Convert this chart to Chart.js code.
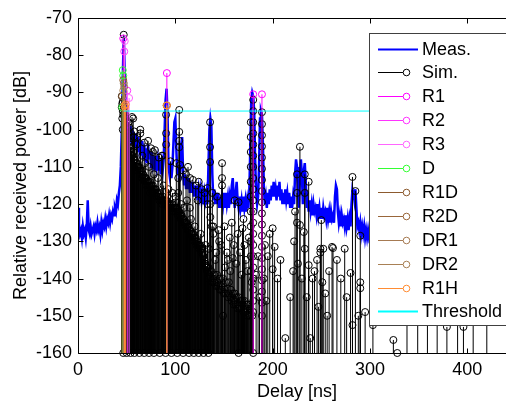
<!DOCTYPE html>
<html>
<head>
<meta charset="utf-8">
<script src="https://cdn.jsdelivr.net/npm/chart.js@4.4.1/dist/chart.umd.min.js"></script>
<style>
html, body { margin: 0; padding: 0; overflow: hidden; background: #fff; }
#wrap { width: 506px; height: 402px; overflow: hidden; }
canvas { display: block; }
</style>
</head>
<body>
<div id="wrap"><canvas id="pdp" width="530" height="402"></canvas></div>
<script>
// measured power delay profile, one sample per ns starting at 0 ns
const measStart = 0;
const measStep = 1;
const measPower = [
  -121,-126,-128,-127,-129,-126,-128,-127,-129,-126,
  -119,-127,-128,-126,-128,-127,-126,-128,-126,-127,
  -125,-127,-126,-128,-125,-127,-125,-126,-124,-126,
  -124,-125,-123,-125,-123,-124,-122,-123,-121,-122,
  -119,-120,-117,-115,-110,-100,-86,-75,-84,-93,
  -97,-101,-98,-103,-99,-104,-100,-103,-101,-105,
  -101,-106,-102,-105,-103,-107,-103,-108,-104,-107,
  -105,-109,-104,-108,-106,-110,-106,-109,-107,-111,
  -107,-110,-108,-111,-108,-112,-109,-111,-108,-100,
  -92,-89,-96,-110,-112,-109,-113,-110,-104,-98,
  -97,-105,-112,-110,-114,-111,-104,-102,-112,-115,
  -112,-116,-113,-116,-113,-117,-114,-117,-114,-118,
  -115,-118,-115,-119,-116,-118,-116,-119,-117,-120,
  -117,-119,-117,-120,-110,-100,-97,-99,-112,-119,
  -116,-120,-117,-120,-117,-121,-118,-121,-118,-120,
  -117,-121,-117,-120,-118,-121,-118,-120,-115,-113,
  -118,-121,-117,-114,-119,-121,-118,-121,-119,-122,
  -118,-121,-119,-122,-119,-121,-117,-105,-92,-90,
  -91,-95,-108,-117,-120,-118,-110,-97,-95,-96,
  -104,-116,-120,-118,-121,-117,-120,-116,-119,-115,
  -118,-114,-118,-116,-119,-115,-118,-114,-119,-116,
  -120,-117,-120,-116,-119,-117,-120,-117,-121,-118,
  -121,-118,-120,-112,-108,-110,-117,-121,-113,-108,
  -112,-120,-111,-109,-114,-121,-119,-122,-119,-122,
  -120,-123,-120,-122,-121,-123,-120,-123,-121,-124,
  -121,-124,-121,-123,-122,-124,-121,-124,-122,-125,
  -122,-124,-123,-125,-118,-115,-116,-122,-125,-123,
  -126,-123,-125,-124,-126,-123,-126,-124,-127,-124,
  -126,-120,-116,-117,-119,-116,-121,-126,-125,-127,
  -125,-128,-126,-128,-126,-129,-127,-129,-127,-129,
  -128
];

// simulated rays [delay ns, power dB]
const simRays = [
  // early cluster
  [45,-94],[46,-95],[47,-74.5],[48,-95],[49,-97],[50,-99],[51,-101],[52,-102],[53,-104],[54,-105],
  [55,-106],[56,-107],[57,-106],[58,-108],[59,-109],[60,-109],[61,-110],[62,-110],[63,-111],[64,-111],
  [65,-112],[66,-111],[67,-112],[68,-113],[69,-113],[70,-113],[71,-114],[72,-114],[73,-115],[74,-114],
  [75,-115],[76,-116],[77,-115],[78,-116],[79,-117],[80,-116],[81,-117],[82,-117],[83,-118],[84,-117],
  [85,-118],[86,-119],[87,-118],[88,-119],[89,-119],[90,-120],[91,-119],[92,-120],[93,-120],[94,-121],
  [95,-120],[96,-121],[97,-120],[98,-121],[99,-121],[100,-121],[101,-121],[102,-122],[103,-122],[104,-122],
  [105,-123],[106,-123],[107,-124],[108,-124],[109,-125],[110,-125],[111,-125],[112,-126],[113,-126],[114,-127],
  [115,-127],[116,-128],[117,-128],[118,-128],[119,-129],[120,-129],[121,-130],[122,-130],[123,-131],[124,-131],
  [125,-131],[126,-132],[127,-132],[128,-133],[129,-134],[130,-135],[131,-136],[132,-137],[133,-138],
  [45.5,-93],[46.5,-96],[47.5,-94],[48.5,-96],[49.5,-98],[50.5,-100],[51.5,-101],[52.5,-103],[53.5,-104],[54.5,-105],
  [55.5,-107],[56.5,-106],[57.5,-108],[58.5,-108],[59.5,-110],[60.5,-109],[61.5,-111],[62.5,-110],[63.5,-112],[64.5,-111],
  [65.5,-113],[66.5,-112],[67.5,-113],[68.5,-114],[69.5,-113],[70.5,-114],[71.5,-115],[72.5,-114],[73.5,-115],[74.5,-116],
  [75.5,-115],[76.5,-117],[77.5,-116],[78.5,-117],[79.5,-116],[80.5,-118],[81.5,-117],[82.5,-118],[83.5,-119],[84.5,-118],
  [85.5,-119],[86.5,-120],[87.5,-119],[88.5,-120],[89.5,-120],[90.5,-119],[91.5,-120],[92.5,-121],[93.5,-120],[94.5,-121],
  [95.5,-121],[96.5,-120],[97.5,-121],[98.5,-122],[99.5,-121],[100.5,-122],[101.5,-121],[102.5,-123],[103.5,-122],[104.5,-123],
  [105.5,-124],[106.5,-123],[107.5,-125],[108.5,-124],[109.5,-125],[110.5,-126],[111.5,-125],[112.5,-127],[113.5,-126],[114.5,-128],
  [115.5,-127],[116.5,-128],[117.5,-129],[118.5,-128],[119.5,-130],[120.5,-129],[121.5,-131],[122.5,-130],[123.5,-131],[124.5,-132],
  [125.5,-131],[126.5,-133],[127.5,-132],[128.5,-134],[129.5,-135],[130.5,-136],[131.5,-137],[132.5,-138],
  [52,-98],[57,-102],[60,-104],[66,-107],[69,-109],[73,-110],[78,-112],[82,-113],[88,-115],[93,-116],
  [97,-117],[100,-118],[106,-120],[109,-121],[116,-124],[120,-126],[126,-128],[131,-131],
  [46.5,-160],[50,-160],[54,-160],[58,-160],[63,-160],[68,-160],[73,-160],[78,-160],[84,-160],[90,-160],
  [96,-160],[102,-160],[108,-160],[114,-160],[119,-160],[124,-160],[129,-160],[134,-160],
  [45,-91],[46,-92.5],[45.5,-97],[46,-100],[48.5,-96.8],[50,-98],[53,-99.5],[55.5,-96.6],[56.7,-97],[58,-100.5],
  [61,-102],[64,-101],[64,-100],[68,-103.5],[72,-103],[75,-105],[77,-106],[79,-105.5],[83,-107.5],[86,-107],
  [87,-107],[90.5,-96],[90.5,-101],[90.5,-104],[95,-108.5],[101,-109],[104,-94.7],[104,-100.6],[104,-103],[104,-104.7],
  [105,-109.5],[108,-111],[111,-112],[113,-110],[115,-113],[118,-113.5],[121,-115],[124,-114],[127,-116],[130,-117],
  [133,-115.7],[103,-113],[103,-117],[62,-110],[66,-113],[70,-115],[74,-117],
  [112,-119],[115,-121],[123,-119],[133,-120],[136,-123.5],[139,-126],
  // 135 - 200 ns
  [135.7,-98],[135.7,-104.7],[135.7,-108.7],[138,-117],[143,-118],[148,-109],[148,-113],[148,-115],
  [134,-137],[136,-120],[137,-138],[139,-128],[140,-139],[142,-133],[143,-139],[145,-130],[146,-140],
  [149,-150],[149,-140],[151,-137],[152,-141],[154,-135],[155,-141],[156,-129],[157,-143],[159,-134.5],
  [159,-144],[161,-119],[161,-144],[163,-145],[165,-119.5],[165,-145],[165,-160],[167,-146],[169,-126.5],
  [169,-146],[171,-146],[171,-131],[173,-147],[174,-138],[175,-147],[177,-148],
  [134,-140],[136,-140],[138,-141],[140,-141],[142,-142],[144,-142],[146,-143],[148,-143],[150,-144],
  [152,-144],[154,-145],[158,-146],[160,-147],[162,-147],[164,-148],[166,-148],[168,-148],[170,-149],
  [172,-149],[174,-150],[176,-150],
  [135,-139],[139,-140],[143,-141],[147,-142],[151,-143],[155,-144],[157,-145],[161,-146],[165,-147],
  [169,-147],[173,-148],[177,-149],[179,-150],
  [134.5,-132],[137.5,-126],[141,-135],[144.5,-127],[147,-131],[150.5,-126],[153,-133],[156.5,-138],
  [158,-125],[160,-131],[162.5,-136],[164,-128],[166.5,-133],[168,-139],[170,-124],[172.5,-135],
  [175.5,-129],[178.5,-141],[183,-139],[185,-134],[186.5,-145],[191,-140],[193.5,-146],
  [177.5,-98],[177.5,-102],[177.5,-106],[177.5,-110],[177.5,-114],[177.5,-118],[177.5,-122],[177.5,-126],
  [177.5,-130],[177.5,-134],[177.5,-138],
  [180,-92],[180,-95],[180,-98],[180,-101],[180,-104],[180,-107],[180,-110],[180,-113],[180,-116],
  [180,-119],[180,-122],[180,-125],[180,-128],[180,-131],[180,-134],[180,-137],[180,-140],[180,-143],
  [180,-146],[180,-149],[180,-160],
  [189,-95.3],[189,-98.5],[189,-101.5],[189,-104.5],[189,-107.5],[189,-110.5],[189,-113.5],[189,-116.5],
  [189,-119.5],[189,-122.5],[189,-125.5],[189,-128.5],[189,-131.5],[189,-134.5],[189,-137.5],[189,-140.5],
  [189,-143.5],[189,-146.5],[189,-150],
  // late tail
  [192,-131],[195,-134],[197,-128],[200,-126.5],[200,-137.5],[202,-131.5],[205,-140],[208,-135],[213,-156],
  [218,-145],[221,-138],[222,-130],[223,-122],[225,-112],[225,-117],[225,-125],[226,-136],[228,-104.6],
  [228,-125.6],[230,-140],[232,-127.5],[233,-112],[233,-117],[233,-132],[235,-145],[237,-114],[237,-136.4],
  [238.6,-156],[241,-140],[243,-138],[245.6,-135],[247,-147.6],[249,-132],[249,-133],[250,-124.3],[251,-141],
  [252,-132],[254,-144],[256,-150],[258,-138],[261,-131.5],[262,-131.8],[266,-135],[270,-140],[274,-132],
  [276,-145],[280,-138.5],[282,-112.7],[282,-152.5],[285,-116.5],[288,-150],[290,-128.5],[290,-141],
  [290,-142.6],[295,-149],[303,-152.5],[324,-156.5],[328,-160],[338,-140],[349,-130],[359,-138],[369,-145],
  [379,-153],[390,-142],[396,-153],[406,-148],[420,-135]
];

// ray-traced contributions by propagation mechanism
const r1Rays = [[46.5,-75.5],[91.3,-84.8],[180,-90.5],[189,-90.5]];
const r2Rays = [[47.5,-79],[50.6,-89.5]];
const r3Rays = [[48,-76.2],[52.5,-91.5]];
const dRays = [[46,-84],[46.5,-85.5],[45.5,-94]];
const r1dRays = [[46.5,-86.7],[45.3,-91]];
const r2dRays = [[47,-87.5],[91,-93.5]];
const dr1Rays = [[47.5,-88.5],[91.3,-93.5]];
const dr2Rays = [[46.5,-89.5]];
const r1hRays = [[47.8,-93.5],[48.4,-94],[49,-93.2],[91.3,-93.5]];

const thresholdLevel = -95;
const thresholdFrom = 47;
const thresholdTo = 450;

const baseLevel = -160;
const FONT = "'Liberation Sans', Arial, sans-serif";

function stemPoints(rays) {
  const pts = [];
  rays.forEach(([d, p]) => {
    pts.push({x: d, y: baseLevel}, {x: d, y: p}, {x: d, y: null});
  });
  return pts;
}

function stemSet(label, rays, color, order) {
  return {
    label: label,
    stem: true,
    data: stemPoints(rays),
    borderColor: color,
    borderWidth: 1,
    pointRadius: (c) => (c.dataIndex % 3 === 1 ? 3.5 : 0),
    pointBorderWidth: 1,
    pointBorderColor: color,
    pointBackgroundColor: 'rgba(0,0,0,0)',
    spanGaps: false,
    clip: false,
    order: order
  };
}

const measPoints = measPower.map((p, i) => ({x: measStart + i * measStep, y: p}));

const datasets = [
  {
    label: 'Meas.',
    data: measPoints,
    borderColor: '#0000ff',
    borderWidth: 2.5,
    pointRadius: 0,
    order: 20
  },
  stemSet('Sim.', simRays, '#000000', 19),
  stemSet('R1', r1Rays, '#ff00ff', 18),
  stemSet('R2', r2Rays, '#ff33ff', 17),
  stemSet('R3', r3Rays, '#ff66ff', 16),
  stemSet('D', dRays, '#33ff33', 15),
  stemSet('R1D', r1dRays, '#8c5a2e', 14),
  stemSet('R2D', r2dRays, '#99663a', 13),
  stemSet('DR1', dr1Rays, '#a67a52', 12),
  stemSet('DR2', dr2Rays, '#a88055', 11),
  stemSet('R1H', r1hRays, '#ff8c33', 10),
  {
    label: 'Threshold',
    data: [{x: thresholdFrom, y: thresholdLevel}, {x: thresholdTo, y: thresholdLevel}],
    borderColor: '#00ffff',
    borderWidth: 1,
    pointRadius: 0,
    order: 1
  }
];

// box around the axes with inward tick marks
const axisFrame = {
  id: 'axisFrame',
  afterDatasetsDraw(chart) {
    const {ctx, chartArea: a, scales: {x, y}} = chart;
    const L = Math.round(a.left) + 0.5, R = Math.round(a.right) + 0.5;
    const T = Math.round(a.top) + 0.5, B = Math.round(a.bottom) + 0.5;
    ctx.save();
    ctx.strokeStyle = '#000';
    ctx.lineWidth = 1;
    ctx.beginPath();
    ctx.rect(L, T, R - L, B - T);
    x.ticks.forEach(t => {
      const px = Math.round(x.getPixelForValue(t.value)) + 0.5;
      ctx.moveTo(px, B); ctx.lineTo(px, B - 5);
      ctx.moveTo(px, T); ctx.lineTo(px, T + 5);
    });
    y.ticks.forEach(t => {
      const py = Math.round(y.getPixelForValue(t.value)) + 0.5;
      ctx.moveTo(L, py); ctx.lineTo(L + 5, py);
      ctx.moveTo(R, py); ctx.lineTo(R - 5, py);
    });
    ctx.stroke();
    ctx.restore();
  }
};

// legend box in the upper right of the axes
const legendBox = {
  id: 'legendBox',
  afterDraw(chart) {
    const ctx = chart.ctx;
    ctx.save();
    ctx.fillStyle = '#fff';
    ctx.fillRect(369.5, 33.5, 200, 292);
    ctx.strokeStyle = '#404040';
    ctx.lineWidth = 1;
    ctx.strokeRect(369.5, 33.5, 200, 292);
    ctx.font = '18px ' + FONT;
    ctx.textBaseline = 'middle';
    chart.data.datasets.forEach((ds, i) => {
      const yy = Math.round(48.5 + i * 23.9) + 0.5;
      ctx.strokeStyle = ds.borderColor;
      ctx.lineWidth = ds.stem ? 1 : 2;
      ctx.beginPath();
      ctx.moveTo(378, yy);
      ctx.lineTo(ds.stem ? 403 : 418, yy);
      ctx.stroke();
      if (ds.stem) {
        ctx.beginPath();
        ctx.arc(406.5, yy, 3.3, 0, Math.PI * 2);
        ctx.stroke();
      }
      ctx.fillStyle = '#000';
      ctx.fillText(ds.label, 422, yy + 1);
    });
    ctx.restore();
  }
};

Chart.defaults.font.family = FONT;
Chart.defaults.font.size = 18;
Chart.defaults.color = '#000';

new Chart(document.getElementById('pdp'), {
  type: 'line',
  data: {datasets: datasets},
  options: {
    responsive: false,
    animation: false,
    events: [],
    layout: {padding: {top: 18, right: 14, left: 0, bottom: 0}},
    plugins: {
      legend: {display: false},
      tooltip: {enabled: false}
    },
    scales: {
      x: {
        type: 'linear',
        min: 0,
        max: 450,
        grid: {display: false, drawTicks: false},
        border: {display: false},
        ticks: {stepSize: 100, includeBounds: false, padding: 6, maxRotation: 0, autoSkip: false},
        title: {display: true, text: 'Delay [ns]', font: {lineHeight: 1}, padding: {top: 0, bottom: 1}},
        afterFit: (s) => { s.height = 49; }
      },
      y: {
        type: 'linear',
        min: -160,
        max: -70,
        grid: {display: false, drawTicks: false},
        border: {display: false},
        ticks: {stepSize: 10, padding: 6},
        title: {display: true, text: 'Relative received power [dB]', padding: {top: 10, bottom: 0}},
        afterFit: (s) => { s.width = 78; }
      }
    }
  },
  plugins: [axisFrame, legendBox]
});
</script>
</body>
</html>
